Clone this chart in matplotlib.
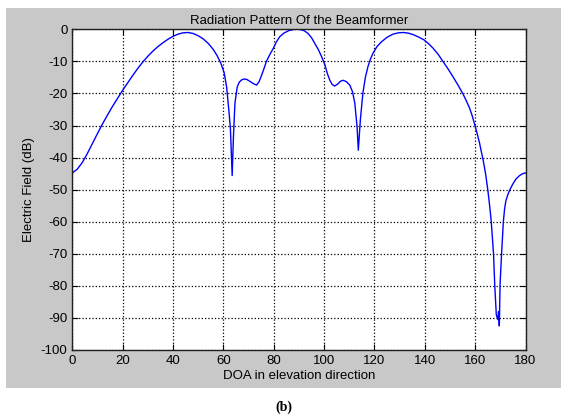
import matplotlib
matplotlib.use("Agg")
import matplotlib.pyplot as plt
from matplotlib.patches import Rectangle

# radiation pattern (DOA in degrees, field in dB)
doa = [0, 2, 4, 6, 8, 10, 12, 14, 16, 18, 20, 22, 24, 26, 28, 30, 32, 34, 36,
       38, 40, 42, 44, 46, 48, 50, 52, 54, 56, 57.5, 59, 60.3, 61.3, 62.3,
       62.8, 63.5, 64.0, 64.6, 65.5, 66.3, 67.2, 68.2, 69.2, 70.5, 71.8, 73.2,
       74.2, 75.2, 76.2, 77.1, 78.5, 79.8, 81, 82.4, 84, 86, 88, 90, 92, 93.5,
       95, 96.3, 97.7, 99, 100.3, 101.3, 102.3, 103.2, 104.2, 105.5, 106.5,
       107.5, 108.8, 110.2, 111.3, 112.2, 113.1, 113.6, 114.4, 115.4, 116.4,
       117.4, 118.4, 119.4, 121, 122.8, 125, 127.4, 129.5, 131.5, 133.5,
       135.5, 137.5, 139.7, 141.5, 143.3, 145.3, 147.2, 149.2, 151.2, 153.2,
       155.2, 156.5, 157.8, 158.8, 159.8, 160.8, 161.7, 162.5, 163.3, 164.2,
       165.1, 165.8, 166.4, 167.3, 167.8, 168.4, 169.0, 169.3, 169.6, 169.9,
       170.5, 171.2, 171.7, 172.2, 173, 173.8, 175, 176.2, 177.5, 178.9, 180]
field_db = [-44.8, -43.6, -41.5, -38.7, -35.6, -32.5, -29.5, -26.7, -24.0,
            -21.5, -19.0, -16.7, -14.4, -12.2, -10.2, -8.4, -6.8, -5.4, -4.2,
            -3.1, -2.2, -1.5, -1.1, -1.0, -1.3, -2.0, -3.0, -4.4, -6.3, -8.2,
            -10.6, -13.5, -18, -26.3, -31, -45.6, -33.5, -23, -18, -16.5,
            -15.8, -15.5, -15.6, -16.2, -16.9, -17.4, -16.3, -14.3, -12.1, -10,
            -7.8, -6, -4, -2.3, -1.2, -0.4, -0.05, 0, -0.4, -1.2, -2.6, -4.4,
            -6.3, -8.5, -11, -13.8, -15.9, -17.2, -17.7, -17.0, -16.2, -15.9,
            -16.3, -17.4, -19.5, -23, -30.4, -37.7, -28.3, -20, -15, -11.7,
            -9.3, -7.5, -5.4, -3.9, -2.5, -1.5, -1.1, -1.0, -1.2, -1.7, -2.4,
            -3.3, -4.5, -5.9, -7.8, -10, -12.3, -14.8, -17.4, -20.2, -22.3,
            -24.6, -26.9, -29.6, -32.5, -35.3, -38.3, -41.3, -45.3, -50.5,
            -55.3, -60, -70, -80, -89, -90.5, -88, -92.5, -79.5, -70, -60, -56,
            -53.5, -51.5, -50, -48.2, -46.7, -45.7, -45, -44.8]

xticks = list(range(0, 181, 20))
yticks = list(range(-100, 1, 10))

plt.rcParams['font.family'] = ['Liberation Sans', 'DejaVu Sans']
plt.rcParams['axes.unicode_minus'] = False

fig = plt.figure(figsize=(5.61, 4.17), dpi=100)
fig.patch.set_facecolor('white')
# grey matlab window area, kept behind the axes
bg = Rectangle((6 / 561, 29 / 417), 555 / 561, 380 / 417,
               transform=fig.transFigure, facecolor='#c8c8c8',
               edgecolor='none', zorder=-10)
fig.add_artist(bg)

ax = fig.add_axes([72.3 / 561, 67 / 417, 453.2 / 561, 320.7 / 417])
ax.set_facecolor('white')
ax.plot(doa, field_db, color='#0000ff', lw=1.0)
ax.set_xlim(0, 180)
ax.set_ylim(-100, 0)
ax.set_xticks(xticks)
ax.set_yticks(yticks)
ax.grid(True, color='black', linestyle=':', linewidth=0.9)
ax.tick_params(direction='in', top=True, right=True, length=4, pad=3.5,
               labelsize=9.5, colors='black')
for s in ax.spines.values():
    s.set_linewidth(1.0)
    s.set_color('#202020')

ax.set_title("Radiation Pattern Of the Beamformer", fontsize=9.5, pad=4)
ax.set_xlabel("DOA in elevation direction", fontsize=9.5, labelpad=2)
ax.set_ylabel("Electric Field (dB)", fontsize=9.5, labelpad=4)

fig.text(284 / 561, 1 - 407 / 417, "(b)", family='Liberation Serif',
         fontweight='bold', fontsize=10, ha='center', va='center')

fig.savefig("out.png", dpi=100)
plt.close()
